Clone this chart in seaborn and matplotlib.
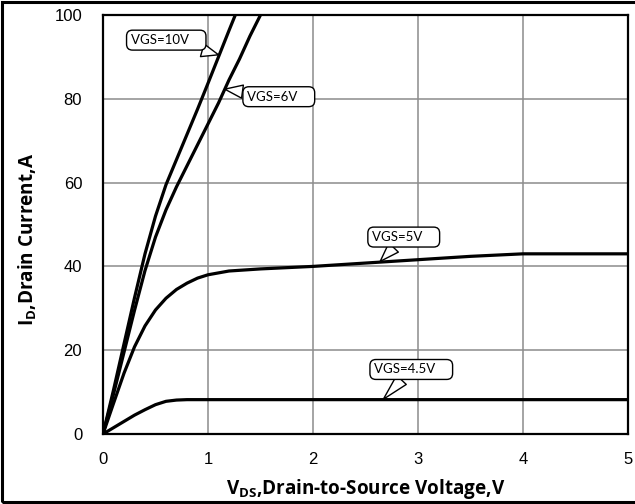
import matplotlib
matplotlib.use("Agg")
import matplotlib.pyplot as plt
from matplotlib.patches import Rectangle
import pandas as pd
import seaborn as sns

# Output characteristics: drain current vs drain-source voltage per gate drive
vds_10v = [0.0, 0.1, 0.2, 0.3, 0.4, 0.5, 0.6, 0.7, 0.8, 0.9, 1.0, 1.1, 1.2, 1.26]
id_10v = [0.0, 10.5, 21.5, 32.5, 43.0, 52.0, 59.5, 65.5, 71.5, 77.5, 83.7, 90.0, 96.3, 100.0]

vds_6v = [0.0, 0.1, 0.2, 0.3, 0.4, 0.5, 0.6, 0.7, 0.8, 0.9, 1.0, 1.1, 1.2, 1.3, 1.4, 1.5]
id_6v = [0.0, 9.5, 19.5, 29.5, 39.0, 47.0, 53.5, 59.0, 64.0, 69.0, 74.0, 79.0, 84.5, 89.5, 95.0, 100.0]

vds_5v = [0.0, 0.1, 0.2, 0.3, 0.4, 0.5, 0.6, 0.7, 0.8, 0.9, 1.0, 1.2, 1.5, 2.0, 2.5, 3.0, 3.5, 4.0, 4.5, 5.0]
id_5v = [0.0, 7.3, 14.5, 20.8, 25.8, 29.6, 32.4, 34.5, 36.0, 37.2, 38.0, 38.9, 39.4, 40.0, 40.8, 41.6, 42.4, 43.0, 43.0, 43.0]

vds_45v = [0.0, 0.1, 0.2, 0.3, 0.4, 0.5, 0.6, 0.7, 0.8, 1.0, 2.0, 3.0, 4.0, 5.0]
id_45v = [0.0, 1.5, 3.0, 4.5, 5.8, 7.0, 7.8, 8.1, 8.2, 8.2, 8.2, 8.2, 8.2, 8.2]

curve_names = ["VGS=10V", "VGS=6V", "VGS=5V", "VGS=4.5V"]
x_ticks = [0, 1, 2, 3, 4, 5]
y_ticks = [0, 20, 40, 60, 80, 100]

# Callout anchor on each curve and where its label box sits (data units)
callout_tips = [(1.10, 90.5), (1.16, 82.3), (2.64, 41.2), (2.67, 8.3)]
callout_text = [(0.262, 94.0), (1.37, 80.5), (2.56, 47.0), (2.58, 15.4)]

frames = []
for name, xs, ys in zip(curve_names,
                        [vds_10v, vds_6v, vds_5v, vds_45v],
                        [id_10v, id_6v, id_5v, id_45v]):
    frames.append(pd.DataFrame({"vds": xs, "id": ys, "curve": name}))
df = pd.concat(frames, ignore_index=True)

sns.set_theme(style="white")
plt.rcParams["font.family"] = ["Liberation Sans", "DejaVu Sans"]
plt.rcParams["mathtext.fontset"] = "custom"
plt.rcParams["mathtext.rm"] = "Open Sans"
plt.rcParams["mathtext.it"] = "Open Sans:italic"
plt.rcParams["mathtext.bf"] = "Open Sans:bold"

fig = plt.figure(figsize=(6.35, 5.04), dpi=100)
fig.patch.set_facecolor("white")
ax = fig.add_axes([103 / 635, 1 - 434 / 504, 525 / 635, 419 / 504])

sns.lineplot(data=df, x="vds", y="id", hue="curve", palette=["black"] * 4,
             estimator=None, sort=False, legend=False, linewidth=2.3, ax=ax,
             zorder=3)

ax.set_xlim(0, 5)
ax.set_ylim(0, 100)
ax.set_xticks(x_ticks)
ax.set_yticks(y_ticks)
ax.set_xticklabels([str(t) for t in x_ticks])
ax.set_yticklabels([str(t) for t in y_ticks])
ax.tick_params(axis="both", length=0, labelsize=12, colors="black")
ax.tick_params(axis="y", pad=15)
ax.tick_params(axis="x", pad=13)
ax.grid(True, color="#8c8c8c", linewidth=1.1)
ax.set_axisbelow(True)
for side in ["left", "bottom", "right", "top"]:
    ax.spines[side].set_visible(True)
    ax.spines[side].set_color("black")
    ax.spines[side].set_linewidth(1.6)
    ax.spines[side].set_zorder(4)

label_font = dict(family="Open Sans", fontweight="bold", fontsize=13.6,
                  color="black", va="center")
ax.set_xlabel(r"$\mathbf{V_{DS}}$,Drain-to-Source Voltage,V", **label_font)
ax.set_ylabel(r"$\mathbf{I_{D}}$,Drain Current,A", **label_font)
ax.xaxis.set_label_coords(0.5, -0.131)
ax.yaxis.set_label_coords(-0.143, 0.465)

for name, tip, pos in zip(curve_names, callout_tips, callout_text):
    ax.annotate(name + "    ", xy=tip, xytext=pos, textcoords="data",
                ha="left", va="center", family="Lato", fontsize=9.5,
                color="black", zorder=6,
                bbox=dict(boxstyle="round,pad=0.3,rounding_size=0.45",
                          fc="white", ec="black", lw=1.0),
                arrowprops=dict(arrowstyle="wedge,tail_width=1.0,shrink_factor=0.5",
                                fc="white", ec="black", lw=1.0,
                                shrinkA=0, shrinkB=0))

fig.patches.append(Rectangle((0.0025, 0.0045), 1.5, 0.9915,
                             transform=fig.transFigure, fill=False,
                             ec="black", lw=2.2, zorder=10))

fig.savefig("out.png", dpi=100, facecolor="white")
